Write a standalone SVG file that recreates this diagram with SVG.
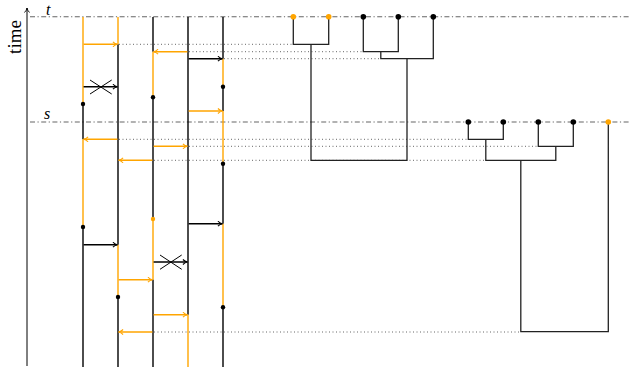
<svg xmlns="http://www.w3.org/2000/svg" width="630" height="368" viewBox="0 0 630 368">
<style>
.k{stroke:#000;stroke-width:1.4;fill:none}
.o{stroke:#FFA500;stroke-width:1.4;fill:none}
.ak{stroke:#000;stroke-width:1.4;fill:none;marker-end:url(#hk)}
.ao{stroke:#FFA500;stroke-width:1.5;fill:none;marker-end:url(#ho)}
.dot{stroke:#666;stroke-width:1;stroke-dasharray:1 2.5;fill:none}
.dd{stroke:#666;stroke-width:1.1;stroke-dasharray:5 2.5 1.2 2.5;fill:none}
.tree{stroke:#222;stroke-width:1.3;fill:none}
.x{stroke:#000;stroke-width:1}
.lbl{font-family:"Liberation Serif",serif;font-style:italic;font-size:16px;fill:#000}
</style>
<defs>
<marker id="hk" viewBox="0 0 6 6" refX="5.5" refY="3" markerWidth="6" markerHeight="6" orient="auto" markerUnits="userSpaceOnUse"><path d="M1,0.5 Q3,2.5 5.5,3 Q3,3.5 1,5.5" fill="none" stroke="#000" stroke-width="1.1"/></marker>
<marker id="ho" viewBox="0 0 6 6" refX="5.5" refY="3" markerWidth="6" markerHeight="6" orient="auto" markerUnits="userSpaceOnUse"><path d="M1,0.5 Q3,2.5 5.5,3 Q3,3.5 1,5.5" fill="none" stroke="#FFA500" stroke-width="1.1"/></marker>
<marker id="ax" viewBox="0 0 6 6" refX="5.5" refY="3" markerWidth="6" markerHeight="6" orient="auto" markerUnits="userSpaceOnUse"><path d="M1,0.5 Q3,2.5 5.5,3 Q3,3.5 1,5.5" fill="none" stroke="#000" stroke-width="0.9"/></marker>
</defs>

<g id="axis">
<line x1="27" y1="366" x2="27" y2="8" stroke="#000" stroke-width="1" marker-end="url(#ax)"/>
<text transform="translate(21,37) rotate(-90)" text-anchor="middle" font-family="Liberation Serif,serif" font-size="19">time</text>
<text class="lbl" x="46" y="15">t</text>
<text class="lbl" x="44" y="119">s</text>
<line class="dd" x1="30" y1="16.7" x2="630" y2="16.7"/>
<line class="dd" x1="30" y1="122" x2="630" y2="122"/>
</g>

<g id="dotted">
<line class="dot" x1="119" y1="44.3" x2="293" y2="44.3"/>
<line class="dot" x1="189" y1="51.7" x2="363" y2="51.7"/>
<line class="dot" x1="224" y1="58.7" x2="380.8" y2="58.7"/>
<line class="dot" x1="119" y1="139.3" x2="468" y2="139.3"/>
<line class="dot" x1="189" y1="146.3" x2="538" y2="146.3"/>
<line class="dot" x1="154" y1="160.3" x2="485.8" y2="160.3"/>
<line class="dot" x1="154" y1="332" x2="520.8" y2="332"/>
</g>

<g id="lineage1">
<line class="o" x1="83" y1="17" x2="83" y2="104"/>
<line class="k" x1="83" y1="104" x2="83" y2="139.3"/>
<line class="o" x1="83" y1="139.3" x2="83" y2="227"/>
<line class="k" x1="83" y1="227" x2="83" y2="367"/>
<circle cx="83" cy="104" r="2.2"/>
<circle cx="83" cy="227" r="2.2"/>
</g>
<g id="lineage2">
<line class="o" x1="118" y1="17" x2="118" y2="44.3"/>
<line class="k" x1="118" y1="44.3" x2="118" y2="244.7"/>
<line class="o" x1="118" y1="244.7" x2="118" y2="297"/>
<line class="k" x1="118" y1="297" x2="118" y2="367"/>
<circle cx="118" cy="297" r="2.2"/>
</g>
<g id="lineage3">
<line class="k" x1="153" y1="17" x2="153" y2="51.7"/>
<line class="o" x1="153" y1="51.7" x2="153" y2="97.3"/>
<line class="k" x1="153" y1="97.3" x2="153" y2="219"/>
<line class="o" x1="153" y1="219" x2="153" y2="279.7"/>
<line class="k" x1="153" y1="279.7" x2="153" y2="367"/>
<circle cx="153" cy="97.3" r="2.2"/>
<circle cx="153" cy="219" r="2.2" fill="#FFA500"/>
</g>
<g id="lineage4">
<line class="k" x1="188" y1="17" x2="188" y2="314.7"/>
<line class="o" x1="188" y1="314.7" x2="188" y2="367"/>
</g>
<g id="lineage5">
<line class="k" x1="223" y1="17" x2="223" y2="58.7"/>
<line class="o" x1="223" y1="58.7" x2="223" y2="86.7"/>
<line class="k" x1="223" y1="86.7" x2="223" y2="111"/>
<line class="o" x1="223" y1="111" x2="223" y2="163.7"/>
<line class="k" x1="223" y1="163.7" x2="223" y2="223.7"/>
<line class="o" x1="223" y1="223.7" x2="223" y2="307.3"/>
<line class="k" x1="223" y1="307.3" x2="223" y2="367"/>
<circle cx="223" cy="86.7" r="2.2"/>
<circle cx="223" cy="163.7" r="2.2"/>
<circle cx="223" cy="307.3" r="2.2"/>
</g>

<g id="arrows">
<line class="ao" x1="83.6" y1="44.3" x2="117.4" y2="44.3"/>
<line class="ao" x1="187.4" y1="51.7" x2="153.6" y2="51.7"/>
<line class="ak" x1="188.6" y1="58.7" x2="222.4" y2="58.7"/>
<line class="ak" x1="83.6" y1="86.7" x2="117.4" y2="86.7"/>
<line class="ao" x1="188.6" y1="111" x2="222.4" y2="111"/>
<line class="ao" x1="117.4" y1="139.3" x2="83.6" y2="139.3"/>
<line class="ao" x1="153.6" y1="146.3" x2="187.4" y2="146.3"/>
<line class="ao" x1="152.4" y1="160.3" x2="118.6" y2="160.3"/>
<line class="ak" x1="188.6" y1="223.7" x2="222.4" y2="223.7"/>
<line class="ak" x1="83.6" y1="244.7" x2="117.4" y2="244.7"/>
<line class="ak" x1="153.6" y1="262" x2="187.4" y2="262"/>
<line class="ao" x1="118.6" y1="279.7" x2="152.4" y2="279.7"/>
<line class="ao" x1="153.6" y1="314.7" x2="187.4" y2="314.7"/>
<line class="ao" x1="152.4" y1="332" x2="118.6" y2="332"/>
<line class="x" x1="90" y1="80" x2="111.7" y2="94"/>
<line class="x" x1="90" y1="94" x2="111.7" y2="80"/>
<line class="x" x1="160" y1="255" x2="181.7" y2="269.3"/>
<line class="x" x1="160" y1="269.3" x2="181.7" y2="255"/>
</g>

<g id="tree1">
<path class="tree" d="M293.3,16.7V44.3H328.7V16.7M311,44.3V160.3H407V58.7M363.3,16.7V51.7H398.3V16.7M380.8,51.7V58.7H433.3V16.7"/>
<circle cx="293.3" cy="16.7" r="2.8" fill="#FFA500"/>
<circle cx="328.7" cy="16.7" r="2.8" fill="#FFA500"/>
<circle cx="363.3" cy="16.7" r="2.8"/>
<circle cx="398.3" cy="16.7" r="2.8"/>
<circle cx="433.3" cy="16.7" r="2.8"/>
</g>
<g id="tree2">
<path class="tree" d="M468.3,122V139.3H503.3V122M538.3,122V146.3H573.3V122M485.8,139.3V160.3H555.8V146.3M520.8,160.3V331.7H608.3V122"/>
<circle cx="468.3" cy="122" r="2.8"/>
<circle cx="503.3" cy="122" r="2.8"/>
<circle cx="538.3" cy="122" r="2.8"/>
<circle cx="573.3" cy="122" r="2.8"/>
<circle cx="608.3" cy="122" r="2.8" fill="#FFA500"/>
</g>
</svg>
